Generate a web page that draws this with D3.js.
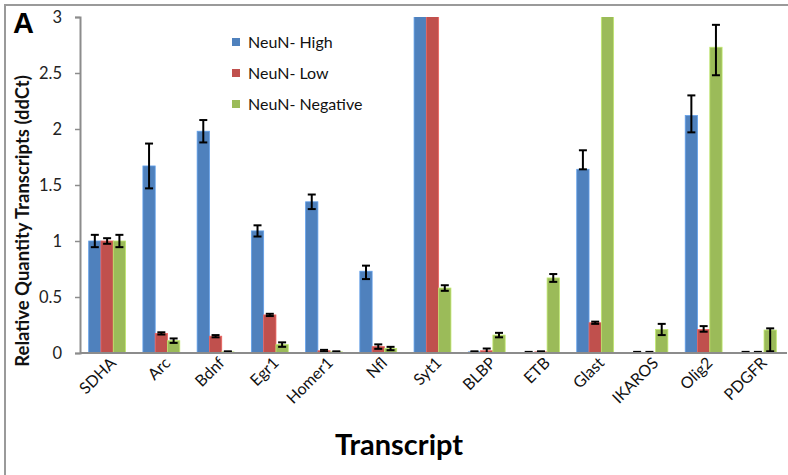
<!DOCTYPE html>
<html>
<head>
<meta charset="utf-8">
<script src="https://cdn.jsdelivr.net/npm/d3@7"></script>
<style>
  body { margin: 0; background: #fff; }
  svg { display: block; }
</style>
</head>
<body>
<div id="chart"></div>
<script>
var categories = ["SDHA", "Arc", "Bdnf", "Egr1", "Homer1", "Nfl", "Syt1", "BLBP", "ETB", "Glast", "IKAROS", "Olig2", "PDGFR"];
var seriesNames = ["NeuN- High", "NeuN- Low", "NeuN- Negative"];
var seriesColors = ["#4F81BD", "#C0504D", "#9BBB59"];

// values above 3 run off the top of the axis in the original
var highVals = [1.00, 1.67, 1.98, 1.09, 1.35, 0.73, 3.60, 0.01, 0.005, 1.64, 0.005, 2.12, 0.005];
var lowVals  = [1.00, 0.175, 0.15, 0.34, 0.02, 0.057, 3.60, 0.02, 0.01, 0.27, 0.005, 0.21, 0.005];
var negVals  = [1.00, 0.11, 0.01, 0.075, 0.01, 0.04, 0.58, 0.16, 0.67, 3.60, 0.21, 2.73, 0.205];

// error bars as [minus, plus]
var highErr = [[0.055, 0.055], [0.2, 0.2], [0.1, 0.1], [0.05, 0.05], [0.065, 0.065], [0.07, 0.05], [0, 0], [0.005, 0.005], [0.005, 0.005], [0, 0.17], [0.005, 0.005], [0.15, 0.18], [0.005, 0.005]];
var lowErr  = [[0.025, 0.025], [0.01, 0.01], [0.01, 0.01], [0.01, 0.01], [0.008, 0.008], [0.02, 0.02], [0, 0], [0.02, 0.02], [0.005, 0.005], [0.01, 0.01], [0.005, 0.005], [0.02, 0.03], [0.005, 0.005]];
var negErr  = [[0.055, 0.055], [0.02, 0.02], [0.005, 0.005], [0.02, 0.02], [0.005, 0.005], [0.015, 0.015], [0.025, 0.025], [0.02, 0.02], [0.035, 0.035], [0, 0], [0.05, 0.05], [0.25, 0.2], [0.19, 0.015]];

var yTicks = [0, 0.5, 1, 1.5, 2, 2.5, 3];

var WIDTH = 788, HEIGHT = 475;
var MARGINS = { top: 17, right: 3, bottom: 122, left: 80 };
var font = "Lato, 'Open Sans', sans-serif";

var svg = d3.select("#chart").append("svg")
    .attr("width", WIDTH)
    .attr("height", HEIGHT);

// outer frame (only top and left edges show)
svg.append("rect")
    .attr("x", 5).attr("y", 5)
    .attr("width", WIDTH + 20).attr("height", HEIGHT + 20)
    .attr("fill", "none")
    .attr("stroke", "#9a9a9a")
    .attr("stroke-width", 2);

var xScale = d3.scaleBand()
    .domain(categories)
    .range([MARGINS.left, WIDTH - MARGINS.right])
    .paddingInner(0.32)
    .paddingOuter(0.16);

var xSub = d3.scaleBand()
    .domain(seriesNames)
    .range([0, xScale.bandwidth()]);

var yScale = d3.scaleLinear()
    .domain([0, 3])
    .range([HEIGHT - MARGINS.bottom, MARGINS.top]);

var rows = [];
var vals = [highVals, lowVals, negVals];
var errs = [highErr, lowErr, negErr];
categories.forEach(function(c, i) {
    seriesNames.forEach(function(s, j) {
        rows.push({ cat: c, series: s, color: seriesColors[j], value: vals[j][i], err: errs[j][i] });
    });
});

svg.append("clipPath").attr("id", "plotclip")
    .append("rect")
    .attr("x", MARGINS.left)
    .attr("y", yScale(3))
    .attr("width", WIDTH - MARGINS.left)
    .attr("height", yScale(0) - yScale(3) + 2);

var plot = svg.append("g").attr("clip-path", "url(#plotclip)");

plot.selectAll("rect.bar")
    .data(rows)
    .enter().append("rect")
    .attr("class", "bar")
    .attr("x", function(d) { return xScale(d.cat) + xSub(d.series); })
    .attr("width", xSub.bandwidth())
    .attr("y", function(d) { return yScale(d.value); })
    .attr("height", function(d) { return yScale(0) - yScale(d.value); })
    .attr("fill", function(d) { return d.color; })
    .attr("stroke", function(d) { return d3.color(d.color).brighter(0.6); })
    .attr("stroke-width", 0.8);

// error bars
var capW = 4;
var eb = plot.selectAll("g.err")
    .data(rows.filter(function(d) { return d.err[0] > 0 || d.err[1] > 0; }))
    .enter().append("g")
    .attr("class", "err")
    .attr("stroke", "#000")
    .attr("stroke-width", 2);

function cx(d) { return xScale(d.cat) + xSub(d.series) + xSub.bandwidth() / 2; }

eb.append("line")
    .attr("x1", cx).attr("x2", cx)
    .attr("y1", function(d) { return yScale(d.value + d.err[1]); })
    .attr("y2", function(d) { return yScale(d.value - d.err[0]); });
eb.append("line")
    .attr("x1", function(d) { return cx(d) - capW; })
    .attr("x2", function(d) { return cx(d) + capW; })
    .attr("y1", function(d) { return yScale(d.value + d.err[1]); })
    .attr("y2", function(d) { return yScale(d.value + d.err[1]); });
eb.append("line")
    .attr("x1", function(d) { return cx(d) - capW; })
    .attr("x2", function(d) { return cx(d) + capW; })
    .attr("y1", function(d) { return yScale(d.value - d.err[0]); })
    .attr("y2", function(d) { return yScale(d.value - d.err[0]); });

// y axis
var yAxis = d3.axisLeft(yScale)
    .tickValues(yTicks)
    .tickFormat(function(d) { return String(d); })
    .tickSize(5)
    .tickSizeOuter(5)
    .tickPadding(13);

var yg = svg.append("g")
    .attr("transform", "translate(" + MARGINS.left + ",0)")
    .call(yAxis);
yg.select(".domain").attr("stroke", "#8c8c8c").attr("stroke-width", 2);
yg.selectAll(".tick line").attr("stroke", "#8c8c8c").attr("stroke-width", 1.5);
yg.selectAll(".tick text")
    .style("font-family", font)
    .style("font-size", "16.5px")
    .attr("fill", "#222");

// x axis line
svg.append("line")
    .attr("x1", MARGINS.left)
    .attr("x2", WIDTH - MARGINS.right + 2)
    .attr("y1", yScale(0))
    .attr("y2", yScale(0))
    .attr("stroke", "#8c8c8c")
    .attr("stroke-width", 2);

// rotated category labels
svg.selectAll("text.xlab")
    .data(categories)
    .enter().append("text")
    .attr("class", "xlab")
    .attr("transform", function(d) {
        return "translate(" + (xScale(d) + xScale.bandwidth() / 2 + 10) + "," + (yScale(0) + 11) + ") rotate(-45)";
    })
    .style("text-anchor", "end")
    .style("font-family", font)
    .style("font-size", "16px")
    .attr("fill", "#111")
    .text(function(d) { return d; });

// axis titles
svg.append("text")
    .attr("x", (MARGINS.left + WIDTH) / 2 - 35)
    .attr("y", 455)
    .style("text-anchor", "middle")
    .style("font-family", font)
    .style("font-weight", "bold")
    .style("font-size", "29px")
    .attr("fill", "#000")
    .text("Transcript");

svg.append("text")
    .attr("transform", "translate(29,221) rotate(-90)")
    .style("text-anchor", "middle")
    .style("font-family", font)
    .style("font-weight", "bold")
    .style("font-size", "18.5px")
    .attr("fill", "#111")
    .text("Relative Quantity Transcripts (ddCt)");

// panel letter
svg.append("text")
    .attr("x", 13)
    .attr("y", 33)
    .style("font-family", "'Liberation Sans', Arial, sans-serif")
    .style("font-weight", "bold")
    .style("font-size", "29px")
    .attr("fill", "#000")
    .text("A");

// legend
var legendX = 232, legendY = 42;
for (var i = 0; i < seriesNames.length; i++) {
    svg.append("rect")
        .attr("x", legendX)
        .attr("y", legendY + i * 31 - 4)
        .attr("width", 8)
        .attr("height", 8)
        .attr("fill", seriesColors[i]);
    svg.append("text")
        .attr("x", legendX + 16)
        .attr("y", legendY + i * 31)
        .attr("dy", ".35em")
        .style("font-family", font)
        .style("font-size", "16px")
        .attr("fill", "#111")
        .text(seriesNames[i]);
}
</script>
</body>
</html>
